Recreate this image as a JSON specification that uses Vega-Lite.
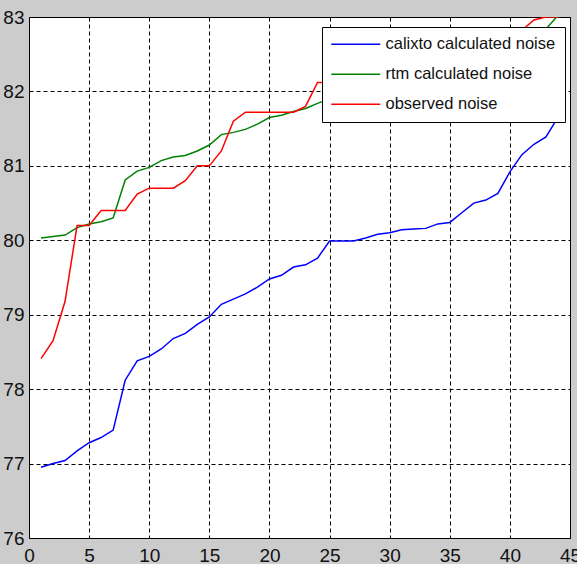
{
  "$schema": "https://vega.github.io/schema/vega-lite/v6.json",
  "width": 541,
  "height": 521,
  "autosize": {"type": "none"},
  "padding": {"left": 29, "top": 17, "right": 7, "bottom": 26},
  "background": "#cccccc",
  "config": {
    "view": {"fill": "white", "stroke": "#000000", "strokeWidth": 1},
    "axis": {
      "grid": true, "gridColor": "#000000", "gridDash": [4, 3], "gridOpacity": 1, "gridWidth": 1,
      "domain": false, "ticks": false,
      "labelFont": "Liberation Sans Narrow, Liberation Sans, Arial",
      "labelFontSize": 19, "labelColor": "#111111", "labelFlush": false, "labelBound": false, "labelOverlap": false,
      "title": null
    }
  },
  "data": {"values": [
    {"series":"calixto calculated noise","x":1,"y":76.95},{"series":"calixto calculated noise","x":2,"y":77.0},{"series":"calixto calculated noise","x":3,"y":77.04},{"series":"calixto calculated noise","x":4,"y":77.17},{"series":"calixto calculated noise","x":5,"y":77.28},{"series":"calixto calculated noise","x":6,"y":77.35},{"series":"calixto calculated noise","x":7,"y":77.45},{"series":"calixto calculated noise","x":8,"y":78.12},{"series":"calixto calculated noise","x":9,"y":78.38},{"series":"calixto calculated noise","x":10,"y":78.44},{"series":"calixto calculated noise","x":11,"y":78.54},{"series":"calixto calculated noise","x":12,"y":78.68},{"series":"calixto calculated noise","x":13,"y":78.75},{"series":"calixto calculated noise","x":14,"y":78.87},{"series":"calixto calculated noise","x":15,"y":78.97},{"series":"calixto calculated noise","x":16,"y":79.14},{"series":"calixto calculated noise","x":17,"y":79.21},{"series":"calixto calculated noise","x":18,"y":79.28},{"series":"calixto calculated noise","x":19,"y":79.37},{"series":"calixto calculated noise","x":20,"y":79.48},{"series":"calixto calculated noise","x":21,"y":79.53},{"series":"calixto calculated noise","x":22,"y":79.64},{"series":"calixto calculated noise","x":23,"y":79.67},{"series":"calixto calculated noise","x":24,"y":79.76},{"series":"calixto calculated noise","x":25,"y":79.99},{"series":"calixto calculated noise","x":26,"y":79.99},{"series":"calixto calculated noise","x":27,"y":79.99},{"series":"calixto calculated noise","x":28,"y":80.03},{"series":"calixto calculated noise","x":29,"y":80.08},{"series":"calixto calculated noise","x":30,"y":80.1},{"series":"calixto calculated noise","x":31,"y":80.14},{"series":"calixto calculated noise","x":32,"y":80.15},{"series":"calixto calculated noise","x":33,"y":80.16},{"series":"calixto calculated noise","x":34,"y":80.22},{"series":"calixto calculated noise","x":35,"y":80.24},{"series":"calixto calculated noise","x":36,"y":80.37},{"series":"calixto calculated noise","x":37,"y":80.5},{"series":"calixto calculated noise","x":38,"y":80.54},{"series":"calixto calculated noise","x":39,"y":80.63},{"series":"calixto calculated noise","x":40,"y":80.92},{"series":"calixto calculated noise","x":41,"y":81.15},{"series":"calixto calculated noise","x":42,"y":81.29},{"series":"calixto calculated noise","x":43,"y":81.39},{"series":"calixto calculated noise","x":44,"y":81.65},
    {"series":"rtm calculated noise","x":1,"y":80.03},{"series":"rtm calculated noise","x":2,"y":80.05},{"series":"rtm calculated noise","x":3,"y":80.07},{"series":"rtm calculated noise","x":4,"y":80.17},{"series":"rtm calculated noise","x":5,"y":80.22},{"series":"rtm calculated noise","x":6,"y":80.25},{"series":"rtm calculated noise","x":7,"y":80.3},{"series":"rtm calculated noise","x":8,"y":80.81},{"series":"rtm calculated noise","x":9,"y":80.93},{"series":"rtm calculated noise","x":10,"y":80.98},{"series":"rtm calculated noise","x":11,"y":81.07},{"series":"rtm calculated noise","x":12,"y":81.12},{"series":"rtm calculated noise","x":13,"y":81.14},{"series":"rtm calculated noise","x":14,"y":81.2},{"series":"rtm calculated noise","x":15,"y":81.28},{"series":"rtm calculated noise","x":16,"y":81.42},{"series":"rtm calculated noise","x":17,"y":81.45},{"series":"rtm calculated noise","x":18,"y":81.49},{"series":"rtm calculated noise","x":19,"y":81.56},{"series":"rtm calculated noise","x":20,"y":81.65},{"series":"rtm calculated noise","x":21,"y":81.68},{"series":"rtm calculated noise","x":22,"y":81.73},{"series":"rtm calculated noise","x":23,"y":81.77},{"series":"rtm calculated noise","x":24,"y":81.84},{"series":"rtm calculated noise","x":25,"y":81.9},{"series":"rtm calculated noise","x":26,"y":81.95},{"series":"rtm calculated noise","x":27,"y":82.0},{"series":"rtm calculated noise","x":28,"y":82.05},{"series":"rtm calculated noise","x":29,"y":82.1},{"series":"rtm calculated noise","x":30,"y":82.15},{"series":"rtm calculated noise","x":31,"y":82.2},{"series":"rtm calculated noise","x":32,"y":82.25},{"series":"rtm calculated noise","x":33,"y":82.3},{"series":"rtm calculated noise","x":34,"y":82.35},{"series":"rtm calculated noise","x":35,"y":82.4},{"series":"rtm calculated noise","x":36,"y":82.45},{"series":"rtm calculated noise","x":37,"y":82.5},{"series":"rtm calculated noise","x":38,"y":82.55},{"series":"rtm calculated noise","x":39,"y":82.6},{"series":"rtm calculated noise","x":40,"y":82.66},{"series":"rtm calculated noise","x":41,"y":82.72},{"series":"rtm calculated noise","x":42,"y":82.78},{"series":"rtm calculated noise","x":43,"y":82.84},{"series":"rtm calculated noise","x":44,"y":83.02},
    {"series":"observed noise","x":1,"y":78.41},{"series":"observed noise","x":2,"y":78.65},{"series":"observed noise","x":3,"y":79.18},{"series":"observed noise","x":4,"y":80.2},{"series":"observed noise","x":5,"y":80.2},{"series":"observed noise","x":6,"y":80.4},{"series":"observed noise","x":7,"y":80.4},{"series":"observed noise","x":8,"y":80.4},{"series":"observed noise","x":9,"y":80.62},{"series":"observed noise","x":10,"y":80.7},{"series":"observed noise","x":11,"y":80.7},{"series":"observed noise","x":12,"y":80.7},{"series":"observed noise","x":13,"y":80.8},{"series":"observed noise","x":14,"y":81.0},{"series":"observed noise","x":15,"y":81.0},{"series":"observed noise","x":16,"y":81.2},{"series":"observed noise","x":17,"y":81.6},{"series":"observed noise","x":18,"y":81.72},{"series":"observed noise","x":19,"y":81.72},{"series":"observed noise","x":20,"y":81.72},{"series":"observed noise","x":21,"y":81.72},{"series":"observed noise","x":22,"y":81.72},{"series":"observed noise","x":23,"y":81.8},{"series":"observed noise","x":24,"y":82.12},{"series":"observed noise","x":25,"y":82.12},{"series":"observed noise","x":26,"y":82.2},{"series":"observed noise","x":27,"y":82.2},{"series":"observed noise","x":28,"y":82.3},{"series":"observed noise","x":29,"y":82.3},{"series":"observed noise","x":30,"y":82.4},{"series":"observed noise","x":31,"y":82.4},{"series":"observed noise","x":32,"y":82.5},{"series":"observed noise","x":33,"y":82.5},{"series":"observed noise","x":34,"y":82.6},{"series":"observed noise","x":35,"y":82.6},{"series":"observed noise","x":36,"y":82.7},{"series":"observed noise","x":37,"y":82.7},{"series":"observed noise","x":38,"y":82.7},{"series":"observed noise","x":39,"y":82.8},{"series":"observed noise","x":40,"y":82.8},{"series":"observed noise","x":41,"y":82.82},{"series":"observed noise","x":42,"y":82.96},{"series":"observed noise","x":43,"y":83.0},{"series":"observed noise","x":44,"y":83.0}
  ]},
  "mark": {"type": "line", "clip": true, "strokeWidth": 1.5},
  "encoding": {
    "x": {"field": "x", "type": "quantitative", "scale": {"domain": [0, 45], "nice": false}, "axis": {"values": [0,5,10,15,20,25,30,35,40,45], "labelPadding": 8}},
    "y": {"field": "y", "type": "quantitative", "scale": {"domain": [76, 83], "nice": false, "zero": false}, "axis": {"values": [76,77,78,79,80,81,82,83], "labelPadding": 5}},
    "color": {
      "field": "series", "type": "nominal",
      "scale": {"domain": ["calixto calculated noise", "rtm calculated noise", "observed noise"], "range": ["#0000ff", "#008000", "#ff0000"]},
      "legend": {
        "orient": "none", "legendX": 293, "legendY": 10, "title": null,
        "fillColor": "#ffffff", "strokeColor": "#000000", "padding": 9, "rowPadding": 13,
        "symbolType": "M-1.6,0H8.2", "symbolSize": 100, "symbolStrokeWidth": 1.5,
        "labelOffset": 38, "labelFont": "Liberation Sans, Arial", "labelFontSize": 16.5, "labelColor": "#111111", "labelLimit": 400
      }
    }
  }
}
